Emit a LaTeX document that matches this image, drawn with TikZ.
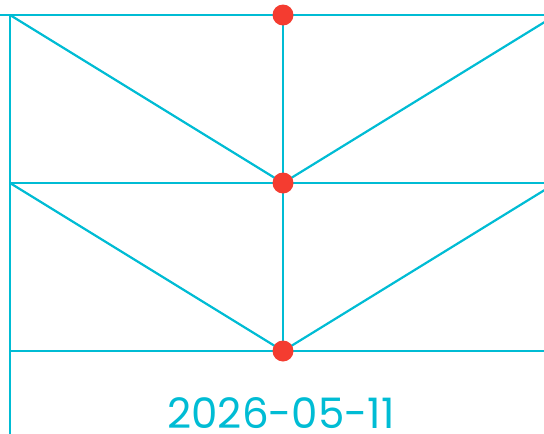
\documentclass[tikz,border=0pt]{standalone}
\usepackage{fontspec}
\setmainfont{Poppins}
\usepackage{tikz}
\usetikzlibrary{positioning}
\definecolor{linecyan}{RGB}{0, 188, 212}
\definecolor{dotred}{RGB}{244, 60, 48}

\tikzset{
    rail/.style={draw=linecyan, line width=2.2pt},
    joint/.style={circle, fill=dotred, inner sep=0pt, minimum size=21pt},
}

\begin{document}
\begin{tikzpicture}[x=1pt, y=-1pt]
    \path[use as bounding box, clip] (0,0) rectangle (544,434);

    % Anchor points
    \coordinate (topL) at (0,15);
    \coordinate (topR) at (560,15);
    \coordinate (midL) at (10,183);
    \coordinate (midR) at (560,183);
    \coordinate (botL) at (10,351);
    \coordinate (botR) at (560,351);
    \coordinate (corner) at (10,15);
    \coordinate (foot) at (10,440);
    \coordinate (upR) at (556,15);
    \coordinate (lowR) at (556,183);
    \coordinate (pTop) at (283,15);
    \coordinate (pMid) at (283,183);
    \coordinate (pBot) at (283,351);

    % Horizontal rails
    \draw[rail] (topL) -- (topR);
    \draw[rail] (midL) -- (midR);
    \draw[rail] (botL) -- (botR);

    % Verticals
    \draw[rail] (corner) -- (foot);
    \draw[rail] (pTop) -- (pBot);

    % Diagonals
    \draw[rail] (corner) -- (pMid) -- (upR);
    \draw[rail] (midL) -- (pBot) -- (lowR);

    % Joints
    \node[joint] (jTop) at (pTop) {};
    \node[joint] (jMid) at (pMid) {};
    \node[joint] (jBot) at (pBot) {};

    % Date
    \node[text=linecyan, font=\fontsize{42}{44}\selectfont, anchor=base, inner sep=0pt] (date) at (281,428) {2026-05-11};
\end{tikzpicture}
\end{document}
